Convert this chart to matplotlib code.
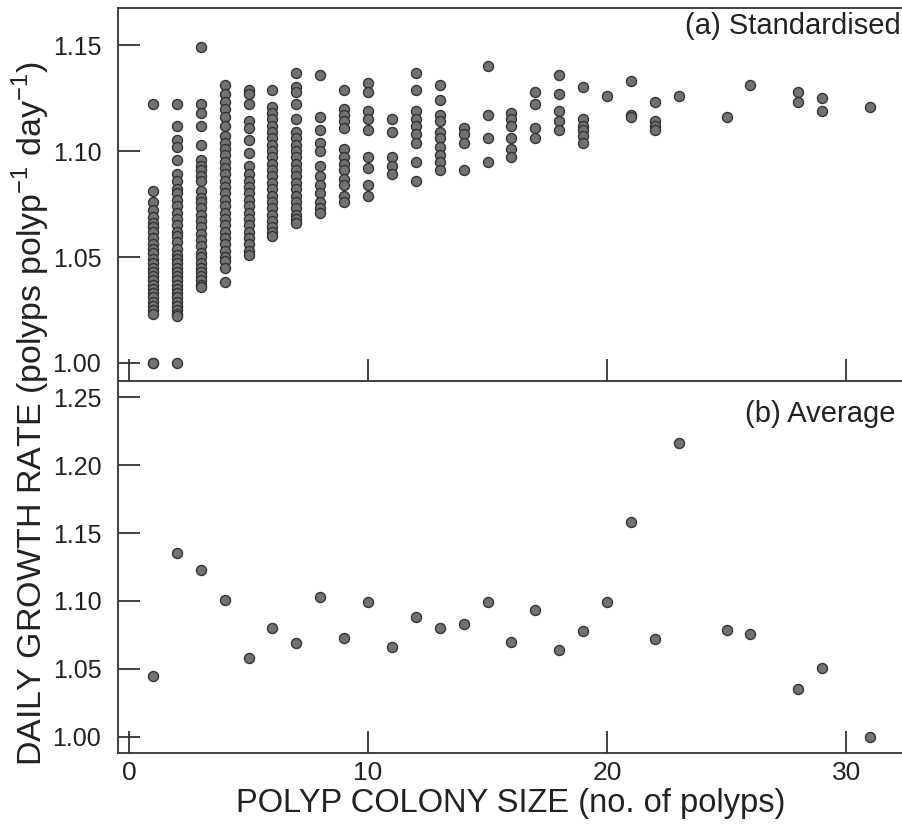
import numpy as np
import matplotlib
matplotlib.use("Agg")
import matplotlib.pyplot as plt

plt.rcParams['font.family'] = ['Liberation Sans', 'DejaVu Sans']
plt.rcParams['mathtext.fontset'] = 'custom'
plt.rcParams['mathtext.rm'] = 'Liberation Sans'

# (a) standardised growth rate, one list per colony size
std_rates = {
    1: [1.122, 1.081, 1.076, 1.072, 1.069, 1.066, 1.064, 1.062, 1.059, 1.056, 1.054, 1.052,
        1.049, 1.047, 1.045, 1.043, 1.041, 1.039, 1.037, 1.035, 1.033, 1.031, 1.029, 1.027,
        1.025, 1.023, 1.000, 1.000],
    2: [1.122, 1.112, 1.105, 1.102, 1.096, 1.089, 1.086, 1.082, 1.080, 1.077, 1.074, 1.071,
        1.068, 1.065, 1.062, 1.060, 1.057, 1.054, 1.051, 1.049, 1.047, 1.045, 1.043, 1.041,
        1.039, 1.037, 1.035, 1.033, 1.031, 1.029, 1.027, 1.025, 1.023, 1.022, 1.000],
    3: [1.149, 1.122, 1.118, 1.112, 1.103, 1.096, 1.093, 1.091, 1.088, 1.086, 1.081, 1.078,
        1.076, 1.073, 1.070, 1.067, 1.064, 1.061, 1.058, 1.055, 1.052, 1.050, 1.047, 1.045,
        1.043, 1.041, 1.039, 1.037, 1.036],
    4: [1.131, 1.127, 1.123, 1.120, 1.116, 1.112, 1.107, 1.104, 1.101, 1.098, 1.095, 1.092,
        1.089, 1.086, 1.083, 1.080, 1.077, 1.074, 1.071, 1.068, 1.065, 1.062, 1.059, 1.056,
        1.053, 1.050, 1.048, 1.045, 1.038],
    5: [1.129, 1.127, 1.122, 1.114, 1.111, 1.105, 1.099, 1.093, 1.089, 1.086, 1.083, 1.080,
        1.077, 1.074, 1.071, 1.068, 1.065, 1.062, 1.059, 1.056, 1.053, 1.051],
    6: [1.129, 1.121, 1.118, 1.115, 1.112, 1.109, 1.106, 1.103, 1.100, 1.097, 1.094, 1.091,
        1.088, 1.085, 1.082, 1.079, 1.076, 1.073, 1.070, 1.067, 1.064, 1.062, 1.060],
    7: [1.137, 1.130, 1.128, 1.122, 1.115, 1.109, 1.106, 1.103, 1.100, 1.097, 1.094, 1.091,
        1.088, 1.085, 1.082, 1.079, 1.076, 1.073, 1.070, 1.068, 1.066],
    8: [1.136, 1.116, 1.110, 1.104, 1.100, 1.093, 1.088, 1.084, 1.080, 1.076, 1.073, 1.071],
    9: [1.129, 1.120, 1.117, 1.114, 1.111, 1.101, 1.097, 1.094, 1.091, 1.087, 1.084, 1.079, 1.076],
    10: [1.132, 1.128, 1.119, 1.115, 1.110, 1.097, 1.092, 1.084, 1.079],
    11: [1.115, 1.109, 1.097, 1.093, 1.089],
    12: [1.137, 1.129, 1.119, 1.115, 1.112, 1.108, 1.104, 1.095, 1.086],
    13: [1.131, 1.124, 1.117, 1.114, 1.109, 1.106, 1.102, 1.098, 1.095, 1.091],
    14: [1.111, 1.108, 1.104, 1.091],
    15: [1.140, 1.117, 1.106, 1.095],
    16: [1.118, 1.115, 1.112, 1.106, 1.101, 1.097],
    17: [1.128, 1.122, 1.111, 1.106],
    18: [1.136, 1.127, 1.119, 1.114, 1.110],
    19: [1.130, 1.115, 1.112, 1.110, 1.107, 1.104],
    20: [1.126],
    21: [1.133, 1.117, 1.116],
    22: [1.123, 1.114, 1.112, 1.110],
    23: [1.126],
    25: [1.116],
    26: [1.131],
    28: [1.128, 1.123],
    29: [1.125, 1.119],
    31: [1.121],
}

# (b) average growth rate per colony size
avg_size = [1, 2, 3, 4, 5, 6, 7, 8, 9, 10, 11, 12, 13, 14, 15, 16, 17, 18, 19, 20,
            21, 22, 23, 25, 26, 28, 29, 31]
avg_rate = [1.045, 1.135, 1.123, 1.101, 1.058, 1.080, 1.069, 1.103, 1.073, 1.099,
            1.066, 1.088, 1.080, 1.083, 1.099, 1.070, 1.093, 1.064, 1.078, 1.099,
            1.158, 1.072, 1.216, 1.079, 1.076, 1.035, 1.051, 1.000]

std_x = []
std_y = []
for size, vals in std_rates.items():
    std_x += [size] * len(vals)
    std_y += vals

fig = plt.figure(figsize=(9.03, 8.27), dpi=100)
ax1 = fig.add_axes([0.1307, 0.5393, 0.8693, 0.4510])
ax2 = fig.add_axes([0.1307, 0.0895, 0.8693, 0.4498])

mk = dict(s=52, c='#727272', edgecolors='#333333', linewidths=1.0, zorder=3)
ax1.scatter(std_x, std_y, **mk)
ax2.scatter(avg_size, avg_rate, **mk)

for ax in (ax1, ax2):
    ax.set_xlim(-0.46, 32.38)
    ax.set_xticks([0, 10, 20, 30])
    ax.spines['right'].set_visible(False)
    for sp in ax.spines.values():
        sp.set_linewidth(1.3)
        sp.set_color('#333333')
    ax.tick_params(direction='in', length=16, width=1.3, color='#333333',
                   labelcolor='#222222')
    ax.tick_params(axis='y', labelsize=18, pad=12)
    ax.tick_params(axis='x', labelsize=19, pad=6)

ax1.set_ylim(0.9915, 1.1675)
ax1.set_yticks([1.00, 1.05, 1.10, 1.15])
ax1.set_yticklabels(['1.00', '1.05', '1.10', '1.15'])
ax1.tick_params(axis='x', labelbottom=False)
ax1.spines['bottom'].set_visible(False)

ax2.set_ylim(0.9882, 1.2618)
ax2.set_yticks([1.00, 1.05, 1.10, 1.15, 1.20, 1.25])
ax2.set_yticklabels(['1.00', '1.05', '1.10', '1.15', '1.20', '1.25'])
ax2.set_xlabel('POLYP COLONY SIZE (no. of polyps)', fontsize=23.5, color='#222222', labelpad=2)

ax1.text(0.997, 0.99, '(a) Standardised', transform=ax1.transAxes, ha='right', va='top',
         fontsize=21, color='#222222')
ax2.text(0.99, 0.95, '(b) Average', transform=ax2.transAxes, ha='right', va='top',
         fontsize=21, color='#222222')

fig.text(0.034, 0.5, 'DAILY GROWTH RATE (polyps polyp$^{-1}$ day$^{-1}$)', rotation=90,
         ha='center', va='center', fontsize=24.5, color='#222222')

fig.savefig('out.png', dpi=100)
